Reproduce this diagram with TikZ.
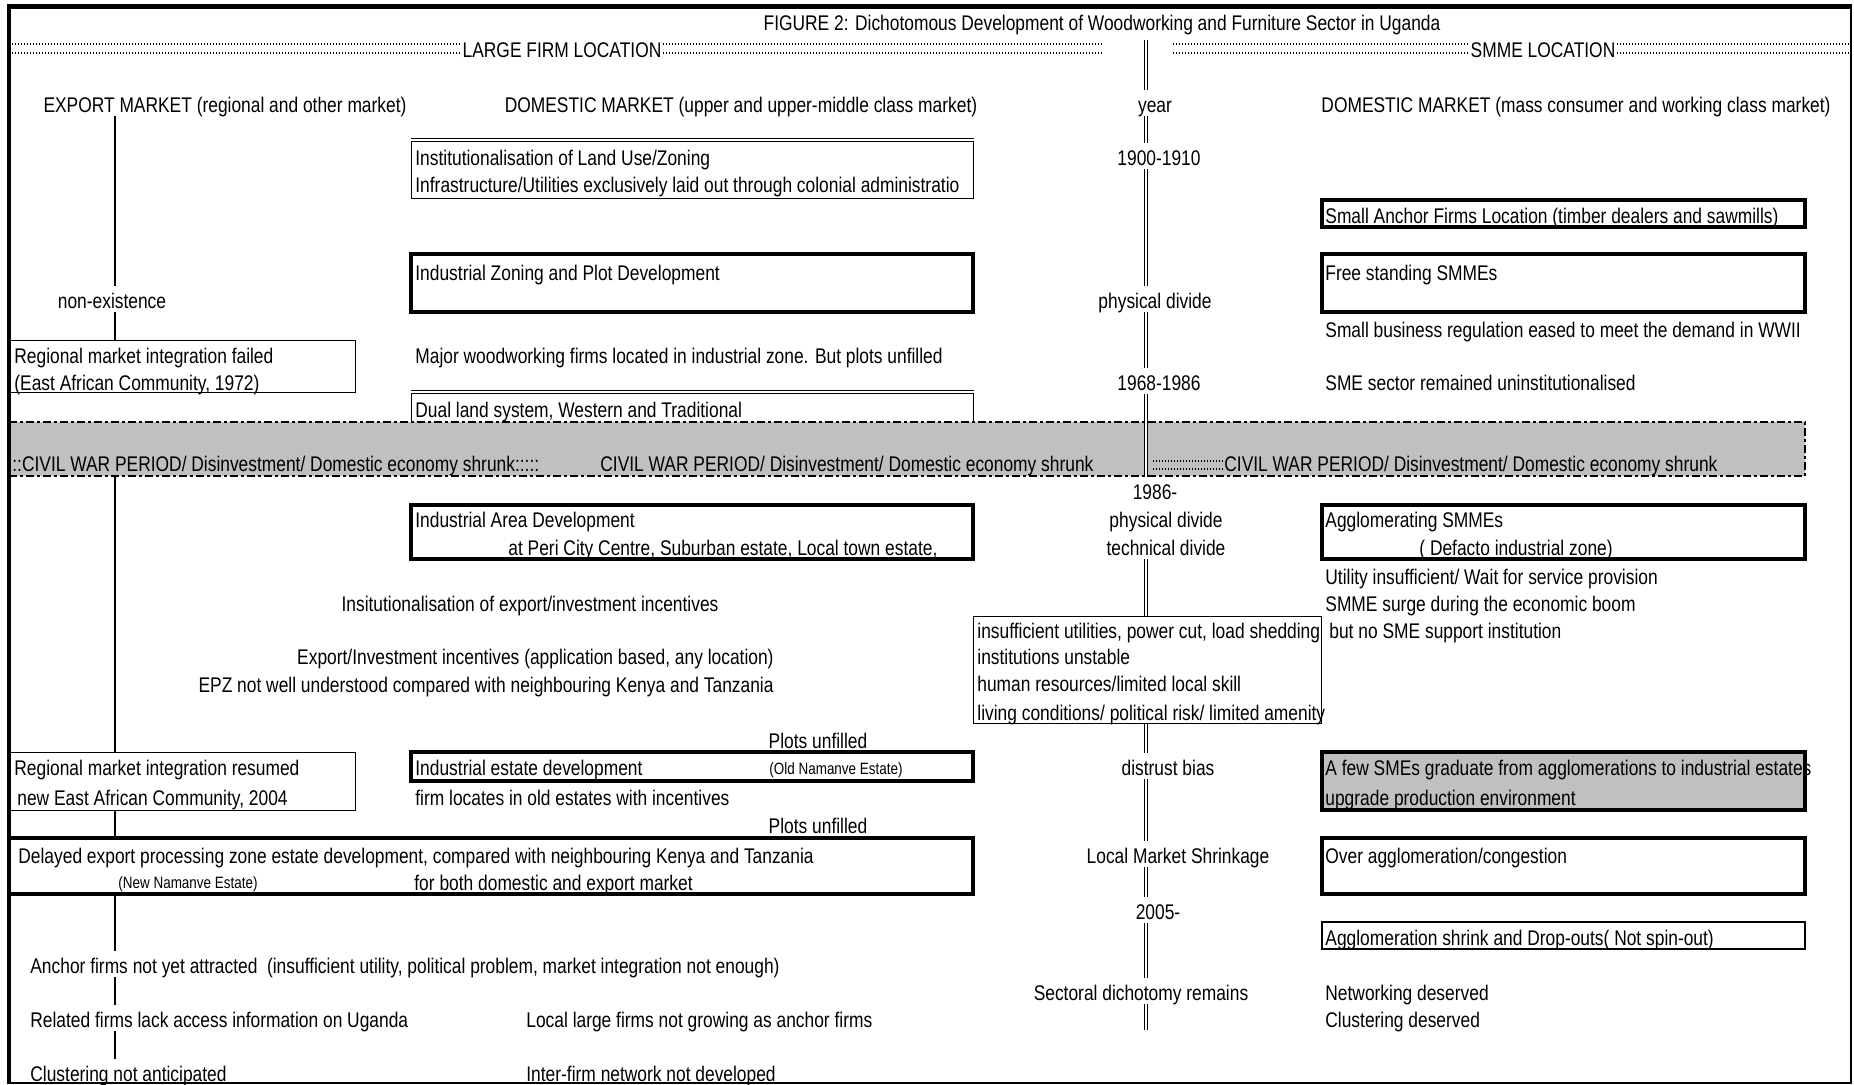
\documentclass[tikz,border=0pt]{standalone}
\usepackage{fontspec}
\setmainfont{Liberation Sans}[FakeStretch=0.82]
\usepackage{tikz}
\usetikzlibrary{fit}
\usepackage{xcolor}
\definecolor{bandgrey}{RGB}{192,192,192}

\tikzset{
  txt/.style={inner sep=1pt, text height=10pt, text depth=0.9pt},
  lft/.style={txt, anchor=west},
  smalltxt/.style={txt, font=\fontsize{8.2}{9}\selectfont, text height=8pt, text depth=0.7pt},
  thinbox/.style={draw, line width=0.5pt, inner sep=0pt},
  thickbox/.style={draw, line width=2pt, inner sep=0pt},
  midbox/.style={draw, line width=1.1pt, inner sep=0pt},
  band/.style={draw, fill=bandgrey, line width=1.35pt, inner sep=0pt, dash pattern=on 4pt off 1.5pt on 1.5pt off 1.5pt},
  dots/.style={line width=0.7pt, dash pattern=on 0.7pt off 0.8pt},
  yearline/.style={double, double distance=1.2pt, line width=0.5pt},
  mktline/.style={line width=0.6pt}
}

\begin{document}
\begin{tikzpicture}[x=0.5pt, y=-0.5pt, font=\fontsize{10.6}{12}\selectfont]
        \useasboundingbox (0,0) rectangle (1854,1085);

        % title and the two location rows
        \node[txt] (title) at (1102,21) {FIGURE 2: Dichotomous Development of Woodworking and Furniture Sector in Uganda};
        \draw[dots] (12,44) -- (1102,44);
        \draw[dots] (12,53) -- (1102,53);
        \draw[dots] (1173,44) -- (1850,44);
        \draw[dots] (1173,53) -- (1850,53);
        \node[txt, fill=white] (large) at (562,48) {LARGE FIRM LOCATION};
        \node[txt, fill=white] (smme) at (1543,48) {SMME LOCATION};

        % market headings
        \node[txt] (exp) at (225,103) {EXPORT MARKET (regional and other market)};
        \node[txt] (dom1) at (741,103) {DOMESTIC MARKET (upper and upper-middle class market)};
        \node[txt] (year) at (1155,103) {year};
        \node[txt] (dom2) at (1576,103) {DOMESTIC MARKET (mass consumer and working class market)};

        % large firm side, before the war
        \node[thinbox, fit={(411,142) (973,199)}] (inst) {};
        \draw[line width=0.5pt] ([yshift=1.5pt]inst.north west) -- ([yshift=1.5pt]inst.north east); % double top rule
        \node[lft] (inst1) at (413,156) {Institutionalisation of Land Use/Zoning};
        \node[lft] (inst2) at (413,183) {Infrastructure/Utilities exclusively laid out through colonial administratio};
        \node[thickbox, fit={(411,254) (973,312)}] (zone) {};
        \node[lft] (zone1) at (413,271) {Industrial Zoning and Plot Development};
        \node[lft] (major) at (413,354) {Major woodworking firms located in industrial zone. But plots unfilled};
        \node[thinbox, fit={(411,394) (973,440)}] (dual) {};
        \draw[line width=0.5pt] ([yshift=1.5pt]dual.north west) -- ([yshift=1.5pt]dual.north east); % double top rule
        \node[lft] (dual1) at (413,408) {Dual land system, Western and Traditional};

        \node[txt] (nonex) at (112,299) {non-existence};
        \node[thinbox, fit={(9,341) (355,393)}] (fail) {};
        \node[lft] (fail1) at (12,354) {Regional market integration failed};
        \node[lft] (fail2) at (12,381) {(East African Community, 1972)};

        % SMME side, before the war
        \node[thickbox, fit={(1322,200) (1805,227)}] (anch) {};
        \node[lft] (anch1) at (1323,214) {Small Anchor Firms Location (timber dealers and sawmills)};
        \node[thickbox, fit={(1322,254) (1805,312)}] (free) {};
        \node[lft] (free1) at (1323,271) {Free standing SMMEs};
        \node[lft] (ease) at (1323,328) {Small business regulation eased to meet the demand in WWII};
        \node[lft] (uninst) at (1323,381) {SME sector remained uninstitutionalised};

        % civil war band
        \node[band, fit={(9,422) (1805,476)}] (war) {};
        \node[lft] (war1) at (10,462) {::CIVIL WAR PERIOD/ Disinvestment/ Domestic economy shrunk:::::};
        \node[lft] (war2) at (598,462) {CIVIL WAR PERIOD/ Disinvestment/ Domestic economy shrunk};
        \draw[dots] (1153,461) -- (1224,461);
        \draw[dots] (1153,469) -- (1224,469);
        \node[lft, inner xsep=0pt] (war3) at (1224,462) {CIVIL WAR PERIOD/ Disinvestment/ Domestic economy shrunk};

        % large firm side, after the war
        \node[thickbox, fit={(411,505) (973,559)}] (area) {};
        \node[lft] (area1) at (413,518) {Industrial Area Development};
        \node[lft] (area2) at (506,546) {at Peri City Centre, Suburban estate, Local town estate,};
        \node[txt] (insti) at (530,602) {Insitutionalisation of export/investment incentives};
        \node[txt, anchor=east] (inc1) at (776,655) {Export/Investment incentives (application based, any location)};
        \node[txt, anchor=east] (inc2) at (776,683) {EPZ not well understood compared with neighbouring Kenya and Tanzania};
        \node[txt] (plots1) at (818,739) {Plots unfilled};
        \node[thickbox, fit={(411,752) (973,781)}] (estate) {};
        \node[lft] (est1) at (413,766) {Industrial estate development};
        \node[smalltxt] (est2) at (836,767) {(Old Namanve Estate)};
        \node[lft] (firm) at (413,796) {firm locates in old estates with incentives};
        \node[txt] (plots2) at (818,824) {Plots unfilled};

        \node[thinbox, fit={(9,752) (355,810)}] (resume) {};
        \node[lft] (res1) at (12,766) {Regional market integration resumed};
        \node[lft] (res2) at (15,796) {new East African Community, 2004};
        \node[thickbox, fit={(9,838) (973,894)}] (epz) {};
        \node[lft] (epz1) at (16,854) {Delayed export processing zone estate development, compared with neighbouring Kenya and Tanzania};
        \node[smalltxt] (epz2) at (188,881) {(New Namanve Estate)};
        \node[lft] (epz3) at (412,881) {for both domestic and export market};

        \node[lft] (anc) at (28,964) {Anchor firms not yet attracted\ \ (insufficient utility, political problem, market integration not enough)};
        \node[lft] (rel) at (28,1018) {Related firms lack access information on Uganda};
        \node[lft] (clu) at (28,1072) {Clustering not anticipated};
        \node[lft] (loc) at (524,1018) {Local large firms not growing as anchor firms};
        \node[lft] (inter) at (524,1072) {Inter-firm network not developed};

        % year column
        \node[txt] (y1900) at (1159,156) {1900-1910};
        \node[txt] (pdiv) at (1155,299) {physical divide};
        \node[txt] (y1968) at (1159,381) {1968-1986};
        \node[txt] (y1986) at (1155,490) {1986-};
        \node[txt] (pdiv2) at (1166,518) {physical divide};
        \node[txt] (tdiv) at (1166,546) {technical divide};
        \node[thinbox, fit={(973,617) (1321,723)}] (risk) {};
        \node[lft] (risk1) at (975,629) {insufficient utilities, power cut, load shedding};
        \node[lft] (risk2) at (975,655) {institutions unstable};
        \node[lft] (risk3) at (975,682) {human resources/limited local skill};
        \node[lft] (risk4) at (975,711) {living conditions/ political risk/ limited amenity};
        \node[txt] (dist) at (1168,766) {distrust bias};
        \node[txt] (lms) at (1178,854) {Local Market Shrinkage};
        \node[txt] (y2005) at (1158,910) {2005-};
        \node[txt] (sect) at (1141,991) {Sectoral dichotomy remains};

        % SMME side, after the war
        \node[thickbox, fit={(1322,505) (1805,559)}] (aggl) {};
        \node[lft] (aggl1) at (1323,518) {Agglomerating SMMEs};
        \node[lft] (aggl2) at (1417,546) {( Defacto industrial zone)};
        \node[lft] (util) at (1323,575) {Utility insufficient/ Wait for service provision};
        \node[lft] (surge) at (1323,602) {SMME surge during the economic boom};
        \node[lft] (nosup) at (1327,629) {but no SME support institution};
        \node[thickbox, fill=bandgrey, fit={(1322,752) (1805,810)}] (grad) {};
        \node[lft] (grad1) at (1323,766) {A few SMEs graduate from agglomerations to industrial estates};
        \node[lft] (grad2) at (1323,796) {upgrade production environment};
        \node[thickbox, fit={(1322,838) (1805,894)}] (over) {};
        \node[lft] (over1) at (1323,854) {Over agglomeration/congestion};
        \node[midbox, fit={(1322,922) (1805,949)}] (drop) {};
        \node[lft] (drop1) at (1323,936) {Agglomeration shrink and Drop-outs( Not spin-out)};
        \node[lft] (netw) at (1323,991) {Networking deserved};
        \node[lft] (clus) at (1323,1018) {Clustering deserved};

        % export market line
        \coordinate (lx) at (115,0);
        \draw[mktline] (exp.south -| lx) -- (nonex.north -| lx);
        \draw[mktline] (nonex.south -| lx) -- (fail.north -| lx);
        \draw[mktline] (war.south -| lx) -- (resume.north -| lx);
        \draw[mktline] (resume.south -| lx) -- (epz.north -| lx);
        \draw[mktline] (epz.south -| lx) -- (anc.north -| lx);
        \draw[mktline] (anc.south -| lx) -- (rel.north -| lx);
        \draw[mktline] (rel.south -| lx) -- (clu.north -| lx);

        % time axis
        \coordinate (axtop) at (1146,40);
        \coordinate (axbot) at (1146,1030);
        \draw[yearline] (axtop) -- (year.north -| axtop);
        \draw[yearline] (year.south -| axtop) -- (y1900.north -| axtop);
        \draw[yearline] (y1900.south -| axtop) -- (pdiv.north -| axtop);
        \draw[yearline] (pdiv.south -| axtop) -- (y1968.north -| axtop);
        \draw[yearline] (y1968.south -| axtop) -- (y1986.north -| axtop);
        \draw[yearline] (tdiv.south -| axtop) -- (risk.north -| axtop);
        \draw[yearline] (risk.south -| axtop) -- (dist.north -| axtop);
        \draw[yearline] (dist.south -| axtop) -- (lms.north -| axtop);
        \draw[yearline] (lms.south -| axtop) -- (y2005.north -| axtop);
        \draw[yearline] (y2005.south -| axtop) -- (sect.north -| axtop);
        \draw[yearline] (sect.south -| axtop) -- (axbot);

        % outer frame
        \draw[line width=2.5pt] (7,7) -- (1852,7); % top
        \draw[line width=2pt] (9,6) -- (9,1084); % left
        \draw[line width=0.6pt] (1851,7) -- (1851,1083) -- (9,1083); % right and bottom
    \end{tikzpicture}
\end{document}
